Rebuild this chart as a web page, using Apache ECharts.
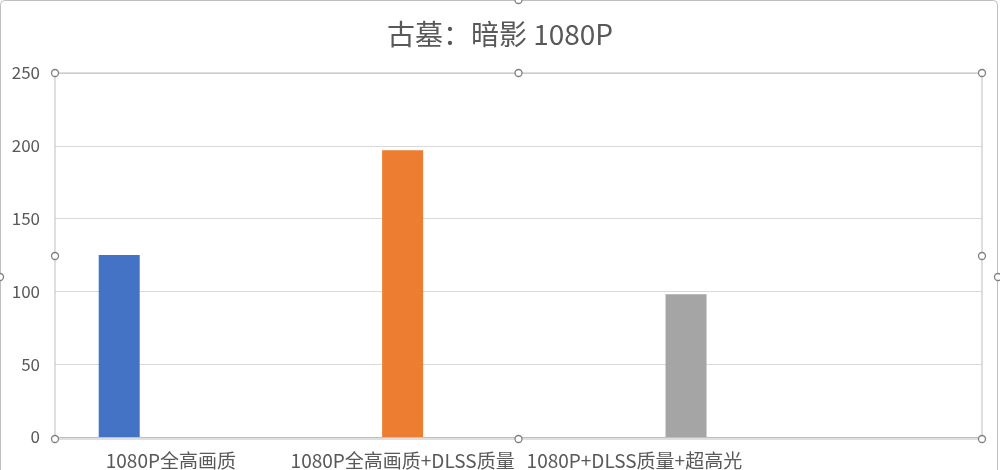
<!DOCTYPE html>
<html>
<head>
<meta charset="utf-8">
<script src="https://cdn.jsdelivr.net/npm/echarts@6/dist/echarts.min.js"></script>
<style>html,body{margin:0;padding:0;background:#fff;}#c{width:1000px;height:470px;}</style>
</head>
<body>
<div id="c"></div>
<script>
var titleText = '古墓：暗影 1080P';
var categories = ['1080P全高画质', '1080P全高画质+DLSS质量', '1080P+DLSS质量+超高光', ''];
var seriesNames = ['1080P全高画质', '1080P全高画质+DLSS质量', '1080P+DLSS质量+超高光'];
var s1 = [125, '-', '-', '-'];
var s2 = ['-', 197, '-', '-'];
var s3 = ['-', '-', 98, '-'];
var colors = ['#4472C4', '#ED7D31', '#A5A5A5'];

var chart = echarts.init(document.getElementById('c'));
var font = '"Noto Sans CJK SC", "Noto Sans", sans-serif';
function handle(x, y) {
  return { type: 'circle', shape: { cx: x, cy: y, r: 3.5 }, style: { fill: '#fff', stroke: '#7f7f7f', lineWidth: 1.3 }, z: 100 };
}
var L = 55, R = 982, T = 73, B = 439, M = (L + R) / 2;
var graphics = [
  { type: 'rect', shape: { x: 0.5, y: 0.5, width: 997, height: 480, r: 4 }, style: { fill: 'none', stroke: '#bfbfbf', lineWidth: 1 }, z: 99 },
  { type: 'rect', shape: { x: L, y: T, width: R - L, height: B - T }, style: { fill: 'none', stroke: '#bfbfbf', lineWidth: 1 }, z: 99 },
  handle(L, T), handle(M, T), handle(R, T),
  handle(L, (T + B) / 2), handle(R, (T + B) / 2),
  handle(L, B), handle(M, B), handle(R, B),
  handle(0, 277), handle(998, 277), handle(M, 0)
];
var dataSets = [s1, s2, s3];
var series = dataSets.map(function (d, i) {
  return {
    name: seriesNames[i], type: 'bar', data: d, barWidth: 41, barGap: '26%',
    itemStyle: { color: colors[i] }
  };
});
chart.setOption({
  animation: false,
  textStyle: { fontFamily: font },
  title: { text: titleText, left: 'center', top: 15, textStyle: { fontSize: 28, fontWeight: 'normal', color: '#595959', fontFamily: font } },
  grid: { left: L, right: 1000 - R, top: T, bottom: 470 - B, containLabel: false },
  xAxis: {
    type: 'category', data: categories,
    axisLine: { lineStyle: { color: '#bfbfbf', width: 1 } },
    axisTick: { show: false },
    axisLabel: { color: '#595959', fontSize: 19, margin: 14, interval: 0 }
  },
  yAxis: {
    type: 'value', min: 0, max: 250, interval: 50,
    axisLine: { show: false }, axisTick: { show: false },
    axisLabel: { color: '#595959', fontSize: 17, margin: 15 },
    splitLine: { lineStyle: { color: '#d9d9d9', width: 1 } }
  },
  series: series,
  graphic: graphics
});
</script>
</body>
</html>
